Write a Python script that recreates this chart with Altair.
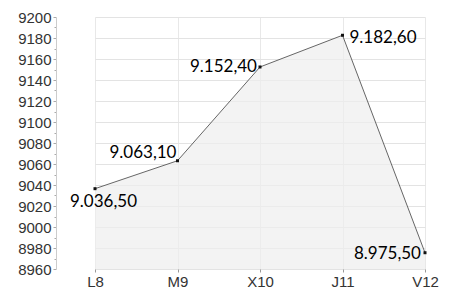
import altair as alt
import pandas as pd

categories = ["L8", "M9", "X10", "J11", "V12"]
values = [9036.50, 9063.10, 9152.40, 9182.60, 8975.50]
labels = ["9.036,50", "9.063,10", "9.152,40", "9.182,60", "8.975,50"]
y_ticks = list(range(8960, 9201, 10))
y_min = 8960

df = pd.DataFrame({"cat": categories, "val": values, "lbl": labels})

x = alt.X("cat:N", sort=categories, title=None,
          scale=alt.Scale(type="point", range=[39, 369], padding=0),
          axis=alt.Axis(labelAngle=0, labelFont="Liberation Sans", labelFontSize=15,
                        labelColor="#333333", tickColor="#999999", tickSize=3,
                        labelPadding=2, domain=False, grid=True, gridColor="#e8e8e8"))
y = alt.Y("val:Q", title=None,
          scale=alt.Scale(domain=[8960, 9200], nice=False, zero=False),
          axis=alt.Axis(values=y_ticks,
                        labelExpr="datum.value % 20 === 0 ? datum.label : ''",
                        format="d", labelFont="Liberation Sans", labelFontSize=15,
                        labelColor="#333333", labelPadding=2,
                        tickColor="#aaaaaa",
                        tickSize={"condition": {"test": "datum.value % 20 === 0", "value": 3}, "value": 2},
                        gridOpacity={"condition": {"test": "datum.value % 20 === 0", "value": 1}, "value": 0},
                        gridColor="#e3e3e3", domainColor="#cccccc"))

base = alt.Chart(df)

area = base.mark_area(color="#eeeeee", opacity=0.7).encode(x=x, y=y, y2=alt.datum(y_min))
line = base.mark_line(color="#666666", strokeWidth=1).encode(x=x, y=y)
pts = base.mark_square(color="#111111", size=9, opacity=1).encode(x=x, y=y)

def lab(cat, align, dx, dy, baseline="middle"):
    return base.transform_filter(alt.datum.cat == cat).mark_text(
        font="Lato", fontSize=17, color="#000000", align=align, dx=dx, dy=dy,
        baseline=baseline).encode(x=x, y=y, text="lbl:N")

texts = [
    lab("L8", "left", -25, 13),
    lab("M9", "right", -1, -8),
    lab("X10", "right", -3, 0),
    lab("J11", "left", 7, 3),
    lab("V12", "right", -4, 1),
]

chart = alt.layer(area, line, pts, *texts).properties(
    width=393, height=252,
    padding={"left": 9, "top": 2, "right": 0, "bottom": 0},
).configure_view(stroke=None)

chart.save("out.html", embed_options={"renderer": "svg", "actions": False})
